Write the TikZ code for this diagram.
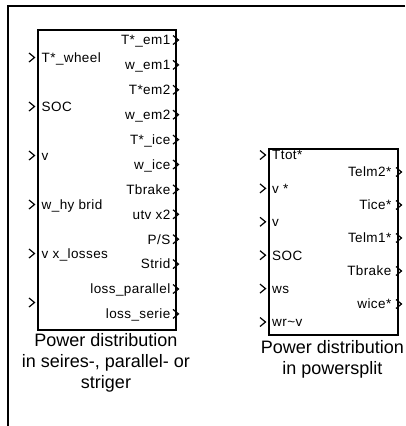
\documentclass[tikz,border=0pt]{standalone}
\usepackage{fontspec}
\setmainfont{Liberation Sans}
\begin{document}
\begin{tikzpicture}[x=1pt,y=-1pt,
  blk/.style={draw,line width=1.6pt,inner sep=0pt,anchor=north west},
  lbl/.style={font=\fontsize{13.5}{15}\selectfont\addfontfeature{LetterSpace=3},inner sep=0pt,text height=9.6pt,text depth=0pt},
  captext/.style={font=\fontsize{18}{21}\selectfont,align=center,inner sep=0pt,anchor=north},
  chev/.pic={\draw[line width=1.2pt,line join=miter] (-5.5,-4.5) -- (0,0) -- (-5.5,4.5);}]
\useasboundingbox (0,0) rectangle (405,426);
\draw[line width=1.4pt] (405,6) -- (8,6) -- (8,427);
% block 1
\node[blk,minimum width=138pt,minimum height=300pt] (b1) at (37,29) {};
\foreach \y/\t [count=\i] in {57.5/T*\_wheel,106.5/SOC,155.5/v,204.5/w\_hy brid,253.5/v x\_losses,302.5/{}}{
  \pic at (34.5,\y) {chev};
  \node[lbl,anchor=west] (b1in\i) at (41.5,\y) {\t};
}
\foreach \y/\t [count=\i] in {40/T*\_em1,64.9/w\_em1,89.8/T*em2,114.7/w\_em2,139.6/T*\_ice,164.5/w\_ice,189.4/Tbrake,214.3/utv x2,239.2/{P/S},264.1/Strid,289/loss\_parallel,313.9/loss\_serie}{
  \pic at (178.5,\y) {chev};
  \node[lbl,anchor=east] (b1out\i) at (170.5,\y) {\t};
}
\node[captext] (c1) at (106,333.5) {Power distribution\\in seires-, parallel- or\\striger};
% block 2
\node[blk,minimum width=129pt,minimum height=186pt] (b2) at (268,148) {};
\foreach \y/\t [count=\i] in {155/Ttot*,188.4/v *,221.8/v,255.2/SOC,288.6/ws,322/wr\textasciitilde v}{
  \pic at (265.5,\y) {chev};
  \node[lbl,anchor=west] (b2in\i) at (272,\y) {\t};
}
\foreach \y/\t [count=\i] in {172/Telm2*,205/Tice*,238/Telm1*,271/Tbrake,304/wice*}{
  \pic at (401.5,\y) {chev};
  \node[lbl,anchor=east] (b2out\i) at (391.5,\y) {\t};
}
\node[captext] (c2) at (332.5,340) {Power distribution\\in powersplit};
\end{tikzpicture}
\end{document}
